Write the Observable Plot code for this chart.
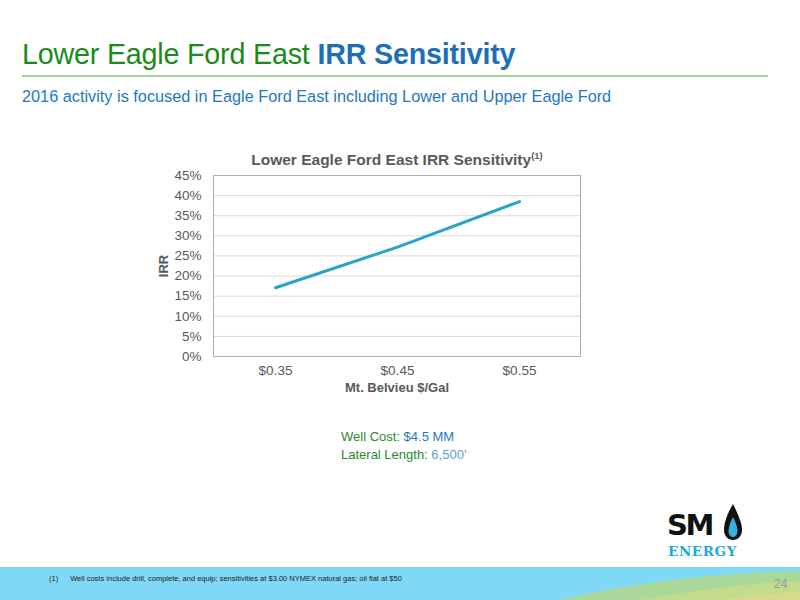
<!DOCTYPE html>
<html>
<head>
<meta charset="utf-8">
<script src="https://cdn.jsdelivr.net/npm/d3@7"></script>
<script src="https://cdn.jsdelivr.net/npm/@observablehq/plot@0.6"></script>
<style>
  html, body { margin: 0; padding: 0; background: #fff; }
  body { width: 800px; height: 600px; position: relative; overflow: hidden; font-family: "Liberation Sans", Arial, sans-serif; }
  .abs { position: absolute; white-space: nowrap; }
  #title { left: 22px; top: 38px; font-size: 28.7px; color: #1b8a1b; letter-spacing: -0.2px; }
  #title b { color: #1f6fb8; }
  #rule { left: 22px; top: 75px; width: 746px; height: 2px; background: #9fd49a; }
  #subtitle { left: 22px; top: 87px; font-size: 16.3px; color: #2377c2; }
  #ctitle { left: 150px; width: 494px; top: 150px; text-align: center; font-size: 15.5px; font-weight: bold; color: #595959; }
  #ctitle sup { font-size: 9.5px; }
  #chart { left: 150px; top: 145px; }
  #notes { left: 341px; top: 428px; font-size: 13px; line-height: 18px; color: #2a8a2a; }
  #notes .b1 { color: #1f77c4; }
  #notes .b2 { color: #56a3dc; }
  #footer { left: 0; top: 567px; }
  #fn { left: 49px; top: 574px; font-size: 7.5px; color: #222; }
  #fn span { margin-left: 12px; }
  #page { left: 774px; top: 577px; font-size: 12px; color: #999; }
  #logo { left: 662px; top: 500px; }
</style>
</head>
<body>
<div id="title" class="abs">Lower Eagle Ford East <b>IRR Sensitivity</b></div>
<div id="rule" class="abs"></div>
<div id="subtitle" class="abs">2016 activity is focused in Eagle Ford East including Lower and Upper Eagle Ford</div>
<div id="ctitle" class="abs">Lower Eagle Ford East IRR Sensitivity<sup>(1)</sup></div>
<div id="chart" class="abs"></div>
<div id="notes" class="abs">Well Cost: <span class="b1">$4.5 MM</span><br>Lateral Length: <span class="b2">6,500'</span></div>

<svg id="logo" class="abs" width="90" height="60" viewBox="0 0 90 60">
  <text x="5" y="35" font-family="'DejaVu Sans', sans-serif" font-weight="bold" font-size="29" fill="#111" letter-spacing="-2.5">SM</text>
  <path d="M71 4 C64 16 62 24 62 30 C62 36 66 40 71 40 C76 40 80 36 80 30 C80 24 77 16 71 4 Z" fill="#111"/>
  <path d="M71 17 C68 23 66.5 27 66.5 31 C66.5 35 69 37 71 37 C73 37 75.5 35 75.5 31 C75.5 27 74 23 71 17 Z" fill="#3aaee0"/>
  <text x="6" y="56" font-family="'DejaVu Serif', serif" font-weight="bold" font-size="13.5" fill="#1fa7de" letter-spacing="0.6">ENERGY</text>
</svg>

<svg id="footer" class="abs" width="800" height="33" viewBox="0 0 800 33">
  <rect x="0" y="0" width="800" height="33" fill="#7fd9f6"/>
  <path d="M560 33 C640 14 720 6 800 4 L800 33 Z" fill="#a9d89a"/>
  <path d="M640 33 C700 22 750 16 800 14 L800 33 Z" fill="#c9dc8a" opacity="0.8"/>
  <path d="M720 33 C750 28 780 26 800 25 L800 33 Z" fill="#e2d98a" opacity="0.7"/>
</svg>
<div id="fn" class="abs">(1)<span>Well costs include drill, complete, and equip; sensitivities at $3.00 NYMEX natural gas; oil flat at $50</span></div>
<div id="page" class="abs">24</div>

<script>
const prices = ["$0.35", "$0.45", "$0.55"];
const irr = [0.171, 0.272, 0.385];
const yTicks = [0, 0.05, 0.10, 0.15, 0.20, 0.25, 0.30, 0.35, 0.40, 0.45];

const data = prices.map((p, i) => ({price: p, irr: irr[i]}));

const chart = Plot.plot({
  width: 450,
  height: 260,
  marginLeft: 63,
  marginRight: 20,
  marginTop: 30,
  marginBottom: 49,
  style: {fontFamily: "'Liberation Sans', Arial, sans-serif", fontSize: "13.5px", color: "#595959", background: "transparent"},
  x: {type: "point", domain: prices, padding: 0.5, label: null},
  y: {domain: [0, 0.45], ticks: yTicks, label: null},
  marks: [
    Plot.gridY(yTicks, {stroke: "#d9d9d9", strokeOpacity: 1}),
    Plot.frame({stroke: "#b0b0b0"}),
    Plot.axisY({ticks: yTicks, tickFormat: d => Math.round(d * 100) + "%", tickSize: 0, tickPadding: 12, fill: "#595959", fontSize: 13.5}),
    Plot.axisX({tickSize: 0, tickPadding: 9, fill: "#595959", fontSize: 13.5, label: null}),
    Plot.text(["Mt. Belvieu $/Gal"], {frameAnchor: "bottom", dy: 35, fontWeight: "bold", fontSize: 13, fill: "#595959"}),
    Plot.text(["IRR"], {frameAnchor: "left", dx: -50, rotate: -90, textAnchor: "middle", fontWeight: "bold", fontSize: 13, fill: "#595959"}),
    Plot.line(data, {x: "price", y: "irr", stroke: "#2ba3c3", strokeWidth: 3})
  ]
});
document.getElementById("chart").appendChild(chart);
</script>
</body>
</html>
